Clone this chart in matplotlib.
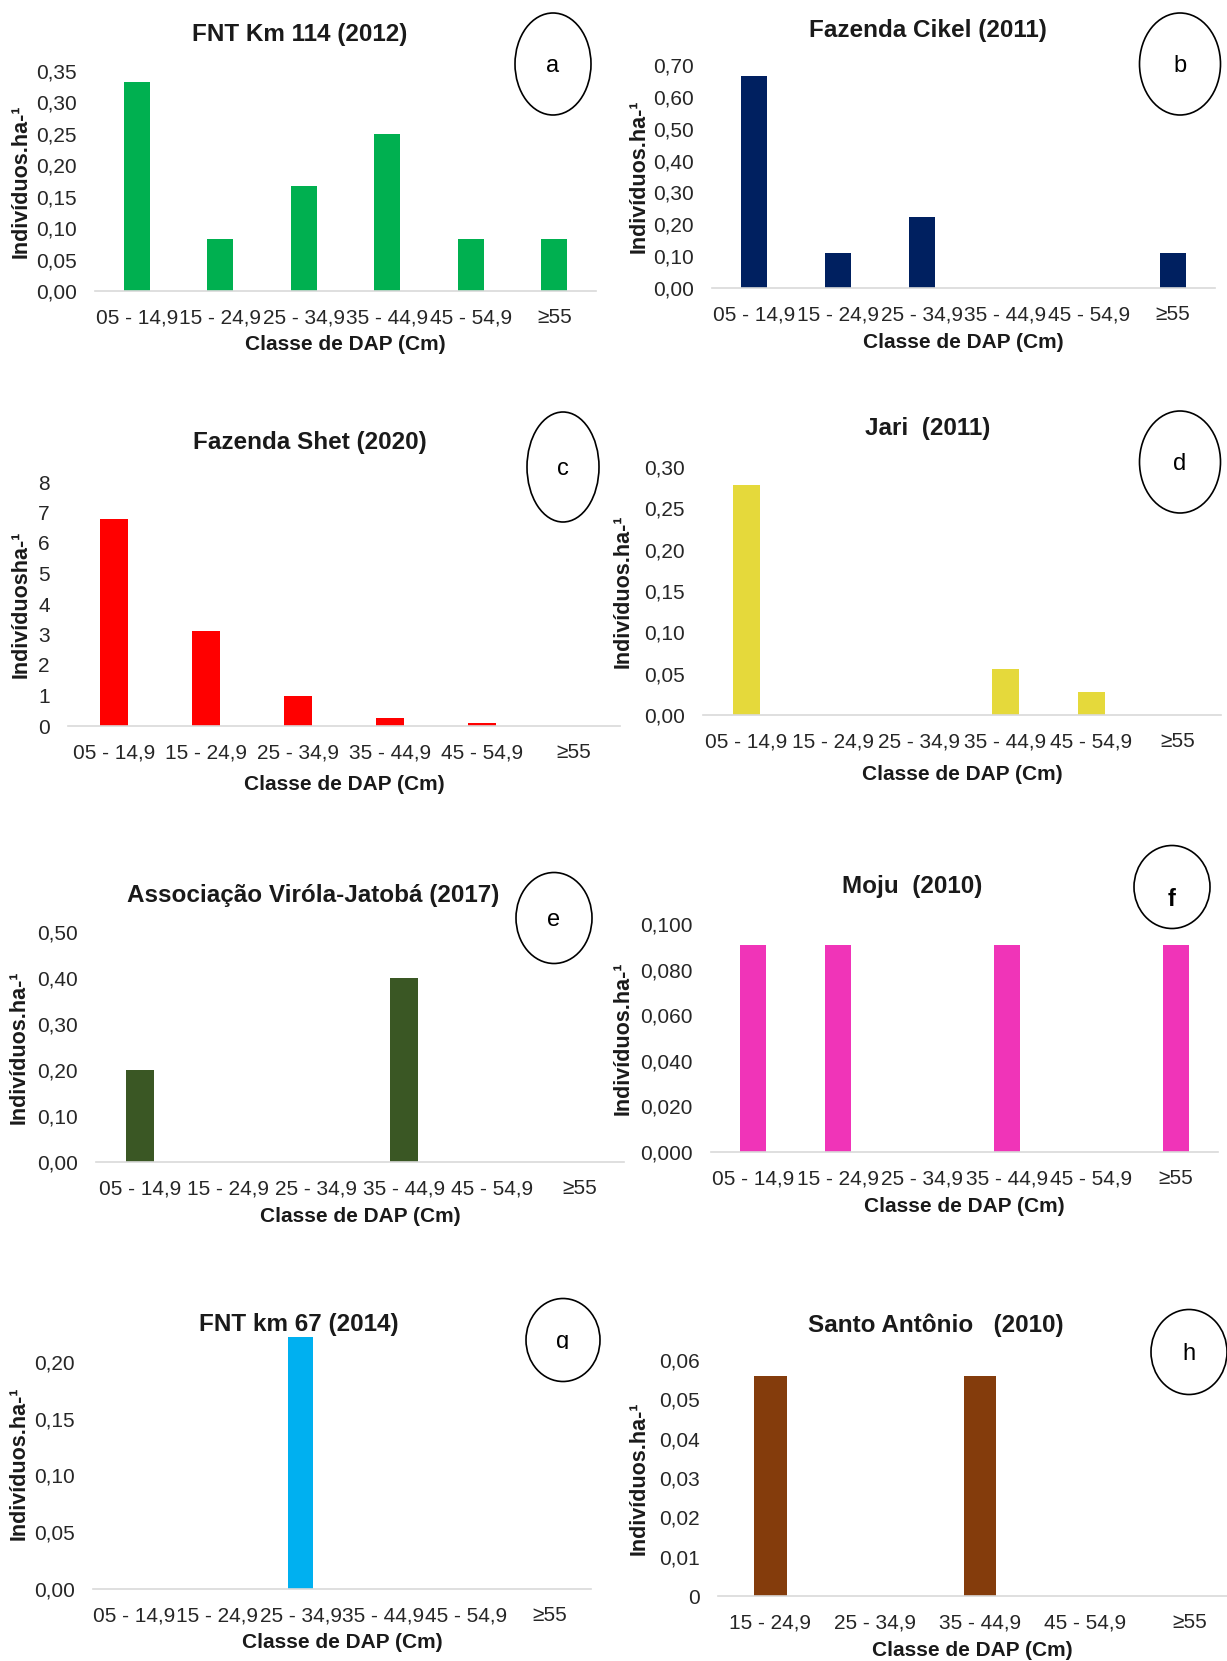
import matplotlib
matplotlib.use("Agg")
import matplotlib.pyplot as plt
import numpy as np
from matplotlib.patches import Ellipse, Rectangle
from matplotlib.ticker import FuncFormatter

plt.rcParams['font.family'] = ['Liberation Sans', 'DejaVu Sans']

# DAP classes
classes6 = ['05 - 14,9', '15 - 24,9', '25 - 34,9', '35 - 44,9', '45 - 54,9', '≥55']
classes5 = ['15 - 24,9', '25 - 34,9', '35 - 44,9', '45 - 54,9', '≥55']

# individuals per hectare by class
fnt114 = [0.333, 0.083, 0.167, 0.250, 0.083, 0.083]
cikel = [0.667, 0.111, 0.222, 0.0, 0.0, 0.111]
shet = [6.8, 3.1, 1.0, 0.25, 0.1, 0.0]
jari = [0.278, 0.0, 0.0, 0.056, 0.028, 0.0]
virola = [0.20, 0.0, 0.0, 0.40, 0.0, 0.0]
moju = [0.091, 0.091, 0.0, 0.091, 0.0, 0.091]
fnt67 = [0.0, 0.0, 0.222, 0.0, 0.0, 0.0]
santo = [0.056, 0.0, 0.056, 0.0, 0.0]

titles = ['FNT Km 114 (2012)', 'Fazenda Cikel (2011)', 'Fazenda Shet (2020)', 'Jari  (2011)',
          'Associação Viróla-Jatobá (2017)', 'Moju  (2010)', 'FNT km 67 (2014)',
          'Santo Antônio   (2010)']
letters = ['a', 'b', 'c', 'd', 'e', 'f', 'g', 'h']
ylabels = ['Indivíduos.ha-¹'] * 8
ylabels[2] = 'Indivíduosha-¹'
colors = ['#00B050', '#002060', '#FF0000', '#E5D93B', '#3A5724', '#F034B8', '#00B0F0', '#843C0C']

W, H = 1227, 1661
fig = plt.figure(figsize=(W / 100, H / 100), dpi=100)


def fx(x):
    return x / W


def fy(y):
    return 1 - y / H


# layout in pixels: axes box (l, r, t, b), title center, ylabel x, xlabel y, ellipse (cx, cy, w, h)
panels = [
    dict(data=fnt114, cats=classes6, box=(95, 596, 71, 291), ymax=0.35, step=0.05, dec=2,
         title=(300, 35), ylx=21, xly=345, ell=(553, 64, 76, 102)),
    dict(data=cikel, cats=classes6, box=(712, 1215, 65, 288), ymax=0.70, step=0.10, dec=2,
         title=(928, 31), ylx=639, xly=342, ell=(1180, 64, 81, 102)),
    dict(data=shet, cats=classes6, box=(68, 620, 482, 726), ymax=8, step=1, dec=0,
         title=(310, 443), ylx=21, xly=784, ell=(563, 467, 72, 110)),
    dict(data=jari, cats=classes6, box=(703, 1221, 467, 715), ymax=0.30, step=0.05, dec=2,
         title=(928, 429), ylx=623, xly=774, ell=(1180, 462, 81, 102)),
    dict(data=virola, cats=classes6, box=(96, 624, 932, 1162), ymax=0.50, step=0.10, dec=2,
         title=(313, 895), ylx=19, xly=1216, ell=(554, 918, 76, 91)),
    dict(data=moju, cats=classes6, box=(711, 1218, 924, 1152), ymax=0.10, step=0.02, dec=3,
         title=(912, 887), ylx=623, xly=1206, ell=(1172, 887, 76, 83)),
    dict(data=fnt67, cats=classes6, box=(93, 591, 1337, 1589), ymax=0.222, step=0.05, dec=2,
         title=(299, 1325), ylx=19, xly=1642, ell=(563, 1340, 74, 83)),
    dict(data=santo, cats=classes5, box=(718, 1242, 1360, 1596), ymax=0.06, step=0.01, dec=2,
         title=(936, 1325), ylx=639, xly=1650, ell=(1189, 1352, 76, 85), plain_zero=True),
]


def make_fmt(dec, plain_zero):
    def f(v, pos):
        if plain_zero and abs(v) < 1e-12:
            return '0'
        return f'{v:.{dec}f}'.replace('.', ',')
    return FuncFormatter(f)


for i, p in enumerate(panels):
    l, r, t, b = p['box']
    ax = fig.add_axes([fx(l), fy(b), (r - l) / W, (b - t) / H])
    n = len(p['cats'])
    x = np.arange(n)
    ax.bar(x, p['data'], width=0.31, color=colors[i], zorder=2)
    ax.set_xlim(-0.5, n - 0.5)
    ax.set_ylim(0, p['ymax'])
    ax.set_yticks(np.arange(0, p['ymax'] + 1e-9, p['step']))
    ax.yaxis.set_major_formatter(make_fmt(p['dec'], p.get('plain_zero', False)))
    ax.set_xticks(x)
    ax.set_xticklabels(p['cats'])
    for s in ['top', 'right', 'left']:
        ax.spines[s].set_visible(False)
    ax.spines['bottom'].set_color('#d9d9d9')
    ax.spines['bottom'].set_linewidth(1.2)
    ax.tick_params(length=0, labelsize=15, colors='#262626')
    ax.tick_params(axis='x', pad=12.5)
    ax.tick_params(axis='y', pad=13)
    ax.patch.set_alpha(0)

    cx, cy = (l + min(r, W)) / 2, (t + b) / 2
    fig.text(fx(p['title'][0]), fy(p['title'][1]), titles[i], ha='center', va='center',
             fontsize=17.5, fontweight='bold', color='#1a1a1a')
    fig.text(fx(p['ylx']), fy(cy), ylabels[i], rotation=90, ha='center', va='center',
             fontsize=15.5, fontweight='bold', color='#1a1a1a')
    fig.text(fx(cx), fy(p['xly']), 'Classe de DAP (Cm)', ha='center', va='center',
             fontsize=15, fontweight='bold', color='#1a1a1a')

    ex, ey, ew, eh = p['ell']
    fig.add_artist(Ellipse((fx(ex), fy(ey)), ew / W, eh / H, transform=fig.transFigure,
                           fill=False, edgecolor='black', linewidth=1.2))
    weight = 'bold' if letters[i] == 'f' else 'normal'
    ly = ey + 12 if letters[i] == 'f' else ey + 2
    txt = fig.text(fx(ex), fy(ly), letters[i], ha='center', va='center', fontsize=17,
                   fontweight=weight, color='black')
    if letters[i] == 'g':
        # the letter box cuts off the descender
        clip = Rectangle((fx(ex - 20), fy(ey + 9)), 40 / W, 40 / H,
                         transform=fig.transFigure, visible=False)
        fig.add_artist(clip)
        txt.set_clip_path(clip)

fig.savefig('out.png', dpi=100, facecolor='white')
